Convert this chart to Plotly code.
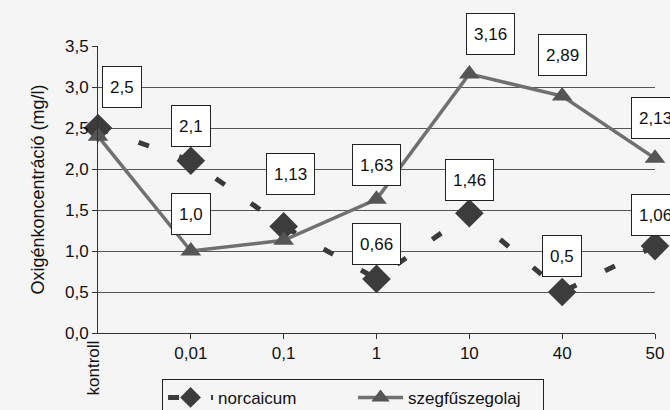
import plotly.graph_objects as go

categories = ["kontroll", "0,01", "0,1", "1", "10", "40", "50"]
norcaicum = [2.5, 2.1, 1.3, 0.66, 1.46, 0.5, 1.06]
szegfuszegolaj = [2.4, 1.0, 1.13, 1.63, 3.16, 2.89, 2.13]

# which points carry a boxed value label, and its pixel offset (dx, dy)
norc_label_off = [(24, -41), (0, -35), None, (0, -35), (0, -33), (0, -36), (0, -31)]
szeg_label_off = [None, (0, -37), (7, -66), (0, -34), (21, -40), (0, -41), (0, -40)]

xpos = list(range(len(categories)))
FONT = "Liberation Sans, Arial, sans-serif"
FS = 17

fig = go.Figure()
fig.add_trace(go.Scatter(
    x=xpos, y=norcaicum, name="norcaicum", mode="lines+markers",
    line=dict(color="#3a3a3a", width=5, dash="11px,32px"),
    marker=dict(symbol="diamond", size=22, color="#3c3c3c"),
    cliponaxis=False,
))
fig.add_trace(go.Scatter(
    x=xpos, y=szegfuszegolaj, name="szegfűszegolaj", mode="lines+markers",
    line=dict(color="#707070", width=3.5),
    marker=dict(symbol="triangle-up", size=18, color="#555555"),
    cliponaxis=False,
))

def fmt(v):
    return str(v).replace(".", ",")

annotations = []
for vals, offs in ((norcaicum, norc_label_off), (szegfuszegolaj, szeg_label_off)):
    for i, (v, off) in enumerate(zip(vals, offs)):
        if off is None:
            continue
        annotations.append(dict(
            x=xpos[i], y=v, xref="x", yref="y", text=fmt(v),
            showarrow=True, arrowcolor="rgba(0,0,0,0)", arrowwidth=0.1,
            ax=off[0], ay=off[1], height=26,
            bgcolor="#ffffff", bordercolor="#222222", borderwidth=1, borderpad=7,
            font=dict(family=FONT, size=FS, color="#111111"),
        ))

annotations.append(dict(
    x=0, y=0, xref="x", yref="paper", text=categories[0], textangle=-90,
    showarrow=False, xanchor="center", yanchor="top", xshift=-5, yshift=-6,
    font=dict(family=FONT, size=FS, color="#111111"),
))

fig.update_layout(
    width=670, height=410,
    margin=dict(l=98, r=15, t=46, b=77, autoexpand=False),
    paper_bgcolor="#f5f5f5", plot_bgcolor="#f5f5f5",
    separators=", ",
    font=dict(family=FONT, size=FS, color="#111111"),
    showlegend=True,
    legend=dict(
        orientation="h", x=0.115, xanchor="left", y=-0.16, yanchor="top",
        bordercolor="#222222", borderwidth=1, bgcolor="#f5f5f5",
        font=dict(family=FONT, size=FS, color="#111111"),
        entrywidth=130, itemwidth=45,
    ),
    annotations=annotations,
    xaxis=dict(
        range=[0, len(categories) - 1], tickvals=xpos[1:], ticktext=categories[1:],
        showgrid=False, zeroline=False, showline=True, linecolor="#333333", linewidth=1,
        ticks="outside", ticklen=5, tickcolor="#333333",
        tickfont=dict(family=FONT, size=FS, color="#111111"),
    ),
    yaxis=dict(
        range=[0, 3.5], dtick=0.5, tickformat=".1f",
        showgrid=True, gridcolor="#555555", gridwidth=1,
        zeroline=False, showline=True, linecolor="#333333", linewidth=1,
        ticks="outside", ticklen=5, tickcolor="#333333",
        tickfont=dict(family=FONT, size=FS, color="#111111"),
        title=dict(text="Oxigénkoncentráció (mg/l)", standoff=15,
                   font=dict(family=FONT, size=18, color="#111111")),
    ),
)

fig.write_html("out.html")
